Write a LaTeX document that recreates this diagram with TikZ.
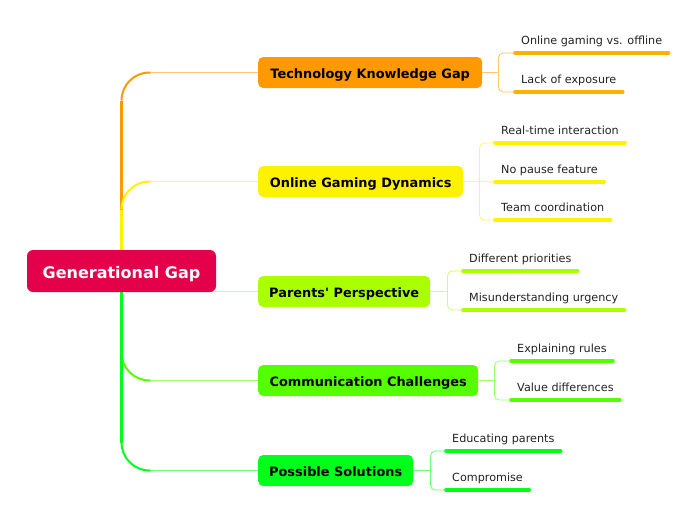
\documentclass[tikz,border=0pt]{standalone}
\usepackage{fontspec}
\setmainfont{DejaVu Sans}
\usetikzlibrary{backgrounds,calc}
\definecolor{rootc}{HTML}{E5004C}
\definecolor{c1}{HTML}{FF9900}
\definecolor{c1u}{HTML}{FFB000}
\definecolor{c2}{HTML}{FFF200}
\definecolor{c3}{HTML}{AAFF00}
\definecolor{c4}{HTML}{55FF00}
\definecolor{c5}{HTML}{00FF1A}
\definecolor{leaftext}{HTML}{222222}
\begin{document}
\begin{tikzpicture}[x=1pt,y=-1pt,
  rootbox/.style={rounded corners=6pt, fill=rootc, text=white, font=\fontsize{16}{19}\selectfont\bfseries, minimum width=189pt, minimum height=42pt, inner sep=0pt, text height=16.6pt, text depth=2pt},
  mainbox/.style={rounded corners=5pt, fill=#1, text=black, font=\fontsize{12.9}{15}\selectfont\bfseries, minimum height=31pt, inner sep=0pt, anchor=west, text height=13.4pt, text depth=2pt},
  leaf/.style={anchor=south west, font=\fontsize{11.2}{13}\selectfont, text=leaftext, inner xsep=6pt, inner ysep=6.3pt, text height=8pt, text depth=2.5pt},
  uline/.style={line width=4pt, line cap=round, draw=#1},
  trunk/.style={line width=3pt, draw=#1},
  bend/.style={line width=2pt, draw=#1, rounded corners=28pt},
  twig/.style={line width=1pt, draw=#1!55},
  brack/.style={line width=0.8pt, draw=#1!60, rounded corners=5pt},
]
\useasboundingbox (0,0) rectangle (697,520);

% root
\node[rootbox] (root) at (121.5,271) {Generational Gap};

% main branches
\node[mainbox=c1, minimum width=224pt] (tech) at (258,72.5) {Technology Knowledge Gap};
\node[mainbox=c2, minimum width=205pt] (online) at (258,181.5) {Online Gaming Dynamics};
\node[mainbox=c3, minimum width=172pt] (parents) at (258,291.5) {Parents\textquotesingle{} Perspective};
\node[mainbox=c4, minimum width=220pt] (comm) at (258,380.5) {Communication Challenges};
\node[mainbox=c5, minimum width=155pt] (sol) at (258,470.5) {Possible Solutions};

% leaves
\node[leaf] (t1) at (515,53) {Online gaming vs. offline};
\node[leaf] (t2) at (515,92) {Lack of exposure};
\node[leaf] (o1) at (495,143) {Real-time interaction};
\node[leaf] (o2) at (495,182) {No pause feature};
\node[leaf] (o3) at (495,220) {Team coordination};
\node[leaf] (p1) at (463,271) {Different priorities};
\node[leaf] (p2) at (463,310) {Misunderstanding urgency};
\node[leaf] (m1) at (511,361) {Explaining rules};
\node[leaf] (m2) at (511,400) {Value differences};
\node[leaf] (s1) at (446,451) {Educating parents};
\node[leaf] (s2) at (446,490) {Compromise};

% underlines
\draw[uline=c1u] (t1.south west) -- (t1.south east);
\draw[uline=c1u] (t2.south west) -- (t2.south east);
\draw[uline=c2] (o1.south west) -- (o1.south east);
\draw[uline=c2] (o2.south west) -- (o2.south east);
\draw[uline=c2] (o3.south west) -- (o3.south east);
\draw[uline=c3] (p1.south west) -- (p1.south east);
\draw[uline=c3] (p2.south west) -- (p2.south east);
\draw[uline=c4] (m1.south west) -- (m1.south east);
\draw[uline=c4] (m2.south west) -- (m2.south east);
\draw[uline=c5] (s1.south west) -- (s1.south east);
\draw[uline=c5] (s2.south west) -- (s2.south east);

% brackets
\draw[twig=c1] (tech.east) -- ++(16,0) coordinate (tb);
\draw[brack=c1] (tb) |- (t1.south west);
\draw[brack=c1] (tb) |- (t2.south west);
\draw[twig=c2] (online.east) -- ++(16,0) coordinate (ob);
\draw[brack=c2] (ob) |- (o1.south west);
\draw[brack=c2] (ob) -- (o2.south west);
\draw[brack=c2] (ob) |- (o3.south west);
\draw[twig=c3] (parents.east) -- ++(17,0) coordinate (pb);
\draw[brack=c3] (pb) |- (p1.south west);
\draw[brack=c3] (pb) |- (p2.south west);
\draw[twig=c4] (comm.east) -- ++(16,0) coordinate (mb);
\draw[brack=c4] (mb) |- (m1.south west);
\draw[brack=c4] (mb) |- (m2.south west);
\draw[twig=c5] (sol.east) -- ++(17,0) coordinate (sb);
\draw[brack=c5] (sb) |- (s1.south west);
\draw[brack=c5] (sb) |- (s2.south west);

% trunk connectors
\begin{scope}[on background layer]
\coordinate (k1) at ($(root.center |- tech.west)+(29,0)$);
\coordinate (v1) at ($(root.center |- tech.west)+(0,28)$);
\coordinate (k2) at ($(root.center |- online.west)+(29,0)$);
\coordinate (v2) at ($(root.center |- online.west)+(0,28)$);
\coordinate (k4) at ($(root.center |- comm.west)+(29,0)$);
\coordinate (v4) at ($(root.center |- comm.west)+(0,-28)$);
\coordinate (k5) at ($(root.center |- sol.west)+(29,0)$);
\coordinate (v5) at ($(root.center |- sol.west)+(0,-28)$);
\draw[trunk=c1] (root.center) -- (v1);
\draw[bend=c1] (v1) |- (k1);
\draw[twig=c1] (k1) -- (tech.west);
\draw[trunk=c2] (root.center) -- (v2);
\draw[bend=c2] (v2) |- (k2);
\draw[twig=c2] (k2) -- (online.west);
\draw[twig=c3] (root.center |- parents.west) -- (parents.west);
\draw[trunk=c4] (root.center) -- (v4);
\draw[bend=c4] (v4) |- (k4);
\draw[twig=c4] (k4) -- (comm.west);
\draw[trunk=c5] (root.center) -- (v5);
\draw[bend=c5] (v5) |- (k5);
\draw[twig=c5] (k5) -- (sol.west);
\end{scope}
\end{tikzpicture}
\end{document}
